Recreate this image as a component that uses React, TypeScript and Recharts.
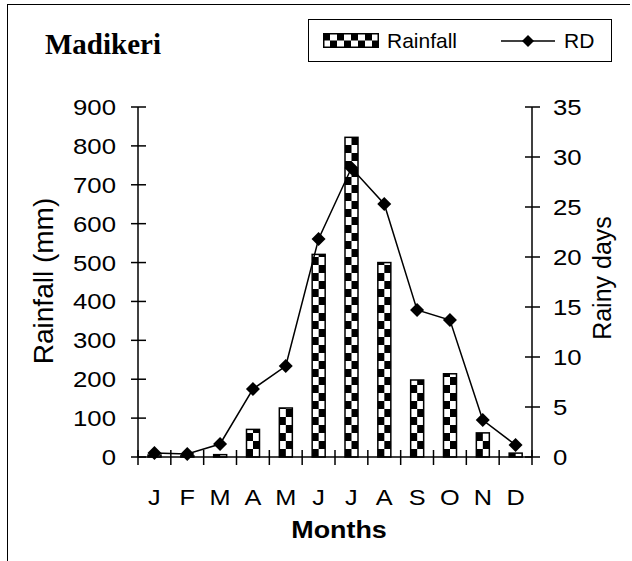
import React from "react";
import {
  Bar,
  ComposedChart,
  Legend,
  Line,
  XAxis,
  YAxis,
} from "recharts";

// Madikeri: monthly rainfall (mm) and rainy days
const months = ["J", "F", "M", "A", "M", "J", "J", "A", "S", "O", "N", "D"];
const rainfall = [5, 3, 6, 71, 126, 521, 822, 500, 198, 214, 62, 10];
const rainyDays = [0.4, 0.3, 1.3, 6.8, 9.1, 21.8, 28.9, 25.3, 14.7, 13.7, 3.7, 1.2];
const rainTicks = [0, 100, 200, 300, 400, 500, 600, 700, 800, 900];
const dayTicks = [0, 5, 10, 15, 20, 25, 30, 35];

const data = months.map((m, i) => ({ m, rain: rainfall[i], rd: rainyDays[i] }));

const SANS = "'Liberation Sans', Arial, sans-serif";
const SERIF = "'Liberation Serif', 'Times New Roman', serif";

function CheckerBar(props: any) {
  const { x, y, width, height } = props;
  if (!height || height <= 0) return null;
  const cell = 8;
  const half = width / 2;
  const cells = [];
  let row = 0;
  for (let bottom = y + height; bottom > y + 0.01; bottom -= cell, row++) {
    const top = Math.max(y, bottom - cell);
    cells.push(
      <rect
        key={row}
        x={row % 2 === 0 ? x : x + half}
        y={top}
        width={half}
        height={bottom - top}
        fill="#000"
      />
    );
  }
  return (
    <g>
      <rect x={x} y={y} width={width} height={height} fill="#fff" />
      {cells}
      <rect x={x} y={y} width={width} height={height} fill="none" stroke="#000" strokeWidth={1.5} />
    </g>
  );
}

function Diamond(props: any) {
  const { cx, cy } = props;
  if (cx == null || cy == null) return null;
  const r = 7;
  return (
    <polygon
      points={`${cx},${cy - r} ${cx + r},${cy} ${cx},${cy + r} ${cx - r},${cy}`}
      fill="#000"
    />
  );
}

// scanned original text is a little wider than the font, so stretch it sideways
function WideText({ x, y, anchor, size, sx, bold, children }: any) {
  return (
    <text
      transform={`translate(${x} ${y}) scale(${sx} 1)`}
      x={0}
      y={0}
      textAnchor={anchor}
      dominantBaseline="central"
      fontSize={size}
      fontWeight={bold ? "bold" : "normal"}
      fontFamily={SANS}
      fill="#000"
    >
      {children}
    </text>
  );
}

function LeftTick(props: any) {
  const { x, y, payload } = props;
  return (
    <g>
      <line x1={x - 7} x2={x + 8} y1={y} y2={y} stroke="#000" strokeWidth={1.5} />
      <WideText x={x - 22} y={y} anchor="end" size={23} sx={1.12}>
        {payload.value}
      </WideText>
    </g>
  );
}

function RightTick(props: any) {
  const { x, y, payload } = props;
  return (
    <g>
      <line x1={x - 7} x2={x + 8} y1={y} y2={y} stroke="#000" strokeWidth={1.5} />
      <WideText x={x + 21} y={y} anchor="start" size={23} sx={1.12}>
        {payload.value}
      </WideText>
    </g>
  );
}

function MonthTick(props: any) {
  const { x, y, payload, index, width, visibleTicksCount } = props;
  const band = width / visibleTicksCount;
  const last = index === visibleTicksCount - 1;
  return (
    <g>
      <line x1={x - band / 2} x2={x - band / 2} y1={y - 7} y2={y + 8} stroke="#000" strokeWidth={1.5} />
      {last && (
        <line x1={x + band / 2} x2={x + band / 2} y1={y - 7} y2={y + 8} stroke="#000" strokeWidth={1.5} />
      )}
      <WideText x={x} y={y + 41} anchor="middle" size={22} sx={1.15}>
        {payload.value}
      </WideText>
    </g>
  );
}

function LegendBox() {
  return (
    <div
      style={{
        boxSizing: "border-box",
        width: "100%",
        height: "100%",
        border: "1.5px solid #000",
        display: "flex",
        alignItems: "center",
        paddingLeft: 14,
        fontFamily: SANS,
        fontSize: 21,
        color: "#000",
      }}
    >
      <svg width={56} height={15} style={{ display: "block" }}>
        {[0, 1, 2, 3, 4, 5, 6, 7].map((c) => (
          <rect key={c} x={c * 7} y={c % 2 === 0 ? 0 : 7.5} width={7} height={7.5} fill="#000" />
        ))}
        <rect x={0.75} y={0.75} width={54.5} height={13.5} fill="none" stroke="#000" strokeWidth={1.5} />
      </svg>
      <span style={{ marginLeft: 8 }}>Rainfall</span>
      <svg width={54} height={16} style={{ display: "block", marginLeft: 44 }}>
        <line x1={0} x2={54} y1={8} y2={8} stroke="#000" strokeWidth={1.5} />
        <polygon points="27,2 33,8 27,14 21,8" fill="#000" />
      </svg>
      <span style={{ marginLeft: 9 }}>RD</span>
    </div>
  );
}

export default function App() {
  return (
    <div
      style={{
        position: "absolute",
        left: 0,
        top: 0,
        width: 632,
        height: 561,
        background: "#fff",
        overflow: "hidden",
      }}
    >
      <div
        style={{
          position: "absolute",
          left: 7,
          top: 4,
          width: 622,
          height: 560,
          borderTop: "1.5px solid #000",
          borderLeft: "1.5px solid #000",
        }}
      />
      <div
        style={{
          position: "absolute",
          left: 45,
          top: 53,
          transform: "translateY(-78%)",
          fontFamily: SERIF,
          fontWeight: "bold",
          fontSize: 29,
          color: "#000",
          lineHeight: 1,
        }}
      >
        Madikeri
      </div>
      <ComposedChart
        width={632}
        height={561}
        data={data}
        margin={{ top: 107, right: 0, bottom: 0, left: 0 }}
        style={{ position: "absolute", left: 0, top: 0 }}
      >
        <XAxis
          dataKey="m"
          height={104}
          stroke="#000"
          strokeWidth={1.5}
          tickLine={false}
          tickSize={0}
          tickMargin={0}
          interval={0}
          tick={<MonthTick />}
          label={{
            content: (p: any) => (
              <WideText
                x={p.viewBox.x + p.viewBox.width / 2 + 4}
                y={p.viewBox.y + 73}
                anchor="middle"
                size={24}
                sx={1.12}
                bold
              >
                Months
              </WideText>
            ),
          }}
        />
        <YAxis
          yAxisId="rain"
          orientation="left"
          width={138}
          domain={[0, 900]}
          ticks={rainTicks}
          interval={0}
          stroke="#000"
          strokeWidth={1.5}
          tickLine={false}
          tickSize={0}
          tickMargin={0}
          tick={<LeftTick />}
          label={{
            content: (p: any) => {
              const cx = p.viewBox.x + 53;
              const cy = p.viewBox.y + p.viewBox.height / 2 - 1;
              return (
                <text
                  x={cx}
                  y={cy}
                  transform={`rotate(-90 ${cx} ${cy})`}
                  textAnchor="middle"
                  fontSize={28}
                  fontFamily={SANS}
                  fill="#000"
                >
                  Rainfall (mm)
                </text>
              );
            },
          }}
        />
        <YAxis
          yAxisId="rd"
          orientation="right"
          width={100}
          domain={[0, 35]}
          ticks={dayTicks}
          interval={0}
          stroke="#000"
          strokeWidth={1.5}
          tickLine={false}
          tickSize={0}
          tickMargin={0}
          tick={<RightTick />}
          label={{
            content: (p: any) => {
              const cx = p.viewBox.x + 79;
              const cy = p.viewBox.y + p.viewBox.height / 2 - 4;
              return (
                <text
                  x={cx}
                  y={cy}
                  transform={`rotate(-90 ${cx} ${cy})`}
                  textAnchor="middle"
                  fontSize={25}
                  fontFamily={SANS}
                  fill="#000"
                >
                  Rainy days
                </text>
              );
            },
          }}
        />
        <Legend
          layout="horizontal"
          verticalAlign="middle"
          align="center"
          wrapperStyle={{ top: 19, left: 308, width: 304, height: 43 }}
          content={() => <LegendBox />}
        />
        <Bar
          yAxisId="rain"
          dataKey="rain"
          name="Rainfall"
          barSize={13}
          shape={<CheckerBar />}
          isAnimationActive={false}
        />
        <Line
          yAxisId="rd"
          type="linear"
          dataKey="rd"
          name="RD"
          stroke="#000"
          strokeWidth={1.5}
          dot={<Diamond />}
          activeDot={false}
          isAnimationActive={false}
        />
      </ComposedChart>
    </div>
  );
}
